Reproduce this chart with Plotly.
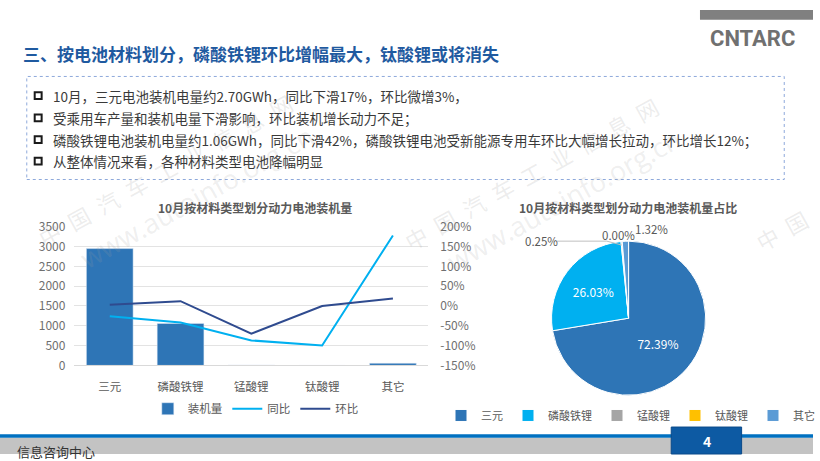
import plotly.graph_objects as go

# ---------------- data ----------------
categories = ["三元", "磷酸铁锂", "锰酸锂", "钛酸锂", "其它"]
install_mwh = [2948, 1060, 10, 0, 54]          # 装机量 (MWh)
yoy_pct = [-26, -42, -87, -100, 178]            # 同比 (%)
mom_pct = [3, 12, -70, 0, 19]                   # 环比 (%)
share_pct = [72.39, 26.03, 0.25, 0.00, 1.32]    # 占比 (%)
left_ticks = [0, 500, 1000, 1500, 2000, 2500, 3000, 3500]
right_ticks = [-150, -100, -50, 0, 50, 100, 150, 200]

title_main = "三、按电池材料划分，磷酸铁锂环比增幅最大，钛酸锂或将消失"
bullets = [
    "10月，三元电池装机电量约2.70GWh，同比下滑17%，环比微增3%，",
    "受乘用车产量和装机电量下滑影响，环比装机增长动力不足；",
    "磷酸铁锂电池装机电量约1.06GWh，同比下滑42%，磷酸铁锂电池受新能源专用车环比大幅增长拉动，环比增长12%；",
    "从整体情况来看，各种材料类型电池降幅明显",
]
bar_title = "10月按材料类型划分动力电池装机量"
pie_title = "10月按材料类型划分动力电池装机量占比"

W, H = 820, 461
def px(x):
    return x / W
def py(y):
    return 1 - y / H

FONT = "Noto Sans CJK SC, Microsoft YaHei, sans-serif"
GRAY = "#595959"

fig = go.Figure()

# ---------------- bar + lines ----------------
fig.add_trace(go.Bar(
    x=categories, y=install_mwh, name="装机量",
    marker=dict(color="#2E75B6"), xaxis="x", yaxis="y",
))
fig.add_trace(go.Scatter(
    x=categories, y=yoy_pct, name="同比", mode="lines",
    line=dict(color="#00B0F0", width=2), xaxis="x", yaxis="y2",
))
fig.add_trace(go.Scatter(
    x=categories, y=mom_pct, name="环比", mode="lines",
    line=dict(color="#2F4B8F", width=2), xaxis="x", yaxis="y2",
))

# ---------------- pie ----------------
pie_colors = ["#2E75B6", "#00B0F0", "#A5A5A5", "#FFC000", "#5B9BD5"]
pie_text = [f"{v:.2f}%" for v in share_pct]
fig.add_trace(go.Pie(
    labels=categories, values=share_pct, sort=False,
    direction="clockwise", rotation=0,
    marker=dict(colors=pie_colors, line=dict(color="white", width=1)),
    text=pie_text, textinfo="text",
    textposition=["inside", "inside", "none", "none", "none"],
    insidetextfont=dict(color="white", size=12, family=FONT),
    domain=dict(x=[px(554), px(714)], y=[py(400), py(240)]),
    legend="legend2", hoverinfo="label+percent",
))

shapes = []
annotations = []

# small-slice labels of the pie (outside)
small_labels = [(2, 546, 240), (3, 624, 234), (4, 657, 227)]
for idx, lx, ly in small_labels:
    annotations.append(dict(text=pie_text[idx], xref="paper", yref="paper",
                            x=px(lx), y=py(ly), xanchor="center", yanchor="middle",
                            showarrow=False,
                            font=dict(size=11.5, color=GRAY, family=FONT)))
shapes.append(dict(type="path", xref="paper", yref="paper",
                   path=f"M {px(562)},{py(240)} L {px(612)},{py(240)} L {px(627)},{py(244)}",
                   line=dict(color="#BFBFBF", width=1)))

# text box
shapes.append(dict(type="rect", xref="paper", yref="paper",
                   x0=px(27), x1=px(791), y0=py(176), y1=py(69),
                   line=dict(color="#8EA9DB", width=1, dash="dot")))
line_ys = [89, 112, 134.5, 157]
for t, yy in zip(bullets, line_ys):
    shapes.append(dict(type="rect", xref="paper", yref="paper",
                       x0=px(35), x1=px(42), y0=py(yy + 3.5), y1=py(yy - 3.5),
                       line=dict(color="#1a1a1a", width=2)))
    annotations.append(dict(text=t, xref="paper", yref="paper",
                            x=px(51), y=py(yy), xanchor="left", yanchor="middle",
                            showarrow=False,
                            font=dict(size=13.5, color="#3A3A3A", family=FONT)))

# main title
annotations.append(dict(text="<b>" + title_main + "</b>", xref="paper", yref="paper",
                        x=px(21), y=py(45), xanchor="left", yanchor="middle",
                        showarrow=False,
                        font=dict(size=17, color="#1F5AA0", family=FONT)))

# logo
shapes.append(dict(type="rect", xref="paper", yref="paper",
                   x0=px(706), x1=px(820), y0=py(10), y1=py(0),
                   fillcolor="#808080", line=dict(width=0)))
annotations.append(dict(text="<b>CNTARC</b>", xref="paper", yref="paper",
                        x=px(759), y=py(30), xanchor="center", yanchor="middle",
                        showarrow=False,
                        font=dict(size=22, color="#707070", family="Roboto, Arial")))

# chart titles
annotations.append(dict(text="<b>" + bar_title + "</b>", xref="paper", yref="paper",
                        x=px(257), y=py(205), xanchor="center", yanchor="middle",
                        showarrow=False, font=dict(size=12, color=GRAY, family=FONT)))
annotations.append(dict(text="<b>" + pie_title + "</b>", xref="paper", yref="paper",
                        x=px(633), y=py(205), xanchor="center", yanchor="middle",
                        showarrow=False, font=dict(size=12, color=GRAY, family=FONT)))

# footer
shapes.append(dict(type="rect", xref="paper", yref="paper",
                   x0=0, x1=1, y0=py(461), y1=py(444),
                   fillcolor="#C3C3C3", line=dict(width=0)))
shapes.append(dict(type="rect", xref="paper", yref="paper",
                   x0=0, x1=1, y0=py(444), y1=py(440.5),
                   fillcolor="#0070C0", line=dict(width=0)))
shapes.append(dict(type="rect", xref="paper", yref="paper",
                   x0=px(677), x1=px(748), y0=py(461), y1=py(433),
                   fillcolor="#0D5AA3", line=dict(color="#0A4A8A", width=1)))
annotations.append(dict(text="<b>4</b>", xref="paper", yref="paper",
                        x=px(713), y=py(447), xanchor="center", yanchor="middle",
                        showarrow=False, font=dict(size=14, color="white", family=FONT)))
annotations.append(dict(text="信息咨询中心", xref="paper", yref="paper",
                        x=px(15), y=py(458), xanchor="left", yanchor="middle",
                        showarrow=False, font=dict(size=13, color="#333333", family=FONT)))

# watermarks
wm_cn = "\u2002".join("中国汽车工业信息网")
for ox, oy in [(47, 232), (417, 235)]:
    annotations.append(dict(text=wm_cn, xref="paper", yref="paper",
                            x=px(ox + 119), y=py(oy - 66), xanchor="center", yanchor="middle",
                            textangle=-29, showarrow=False,
                            font=dict(size=22, color="rgba(160,160,160,0.20)", family=FONT)))
    annotations.append(dict(text="www.autoinfo.org.cn", xref="paper", yref="paper",
                            x=px(ox + 152), y=py(oy - 38), xanchor="center", yanchor="middle",
                            textangle=-29, showarrow=False,
                            font=dict(size=27, color="rgba(160,160,160,0.18)", family="Open Sans")))
annotations.append(dict(text="中\u2002国", xref="paper", yref="paper",
                        x=px(788), y=py(228), xanchor="center", yanchor="middle",
                        textangle=-29, showarrow=False,
                        font=dict(size=22, color="rgba(160,160,160,0.20)", family=FONT)))

fig.update_layout(
    width=W, height=H, autosize=False,
    margin=dict(l=0, r=0, t=0, b=0),
    paper_bgcolor="white", plot_bgcolor="white",
    font=dict(family=FONT, color=GRAY, size=12),
    bargap=0.34,
    xaxis=dict(domain=[px(75), px(432)], type="category",
               showline=True, linecolor="#D9D9D9", linewidth=1,
               ticks="", ticklabelstandoff=11,
               tickfont=dict(size=11.5, color=GRAY), showgrid=False),
    yaxis=dict(domain=[py(369), py(225)], range=[0, 3500],
               tickvals=left_ticks, showgrid=True, gridcolor="#E3E3E3",
               zeroline=False, ticks="", ticklabelstandoff=8,
               tickfont=dict(size=12, color="#6F6F6F")),
    yaxis2=dict(overlaying="y", side="right", range=[-150, 200],
                tickvals=right_ticks, ticktext=[f"{v}%" for v in right_ticks],
                showgrid=False, zeroline=False, ticks="", ticklabelstandoff=11,
                tickfont=dict(size=12, color="#6F6F6F")),
    legend=dict(orientation="h", x=px(258), xanchor="center", y=py(414), yanchor="middle",
                font=dict(size=11.5, color=GRAY), itemwidth=30, bgcolor="rgba(0,0,0,0)"),
    legend2=dict(orientation="h", x=px(636), xanchor="center", y=py(421), yanchor="middle",
                 font=dict(size=11, color=GRAY), itemwidth=30, bgcolor="rgba(0,0,0,0)"),
    shapes=shapes,
    annotations=annotations,
    showlegend=True,
)

fig.write_html("out.html")
